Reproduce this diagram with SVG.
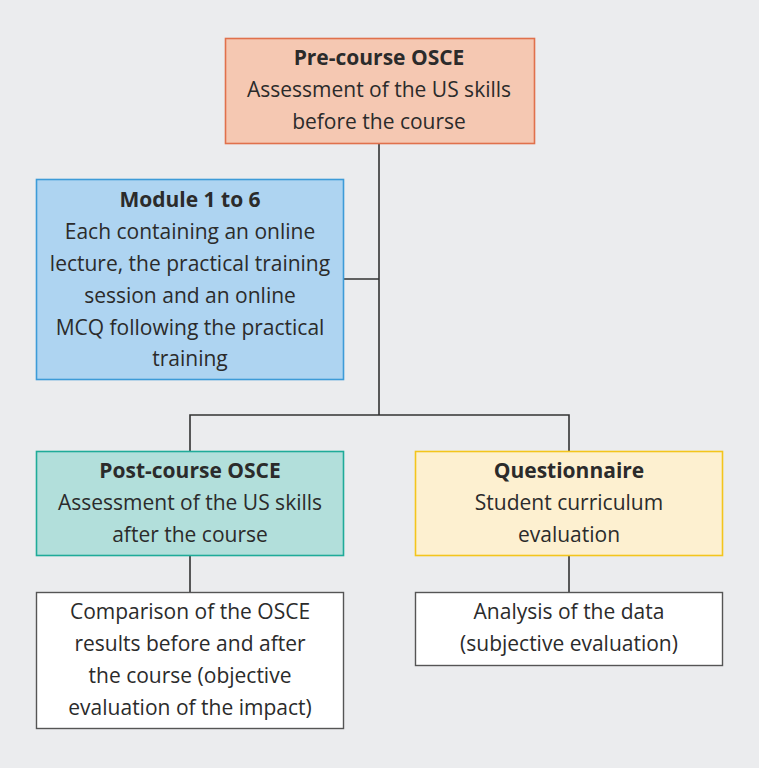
<svg xmlns="http://www.w3.org/2000/svg" width="759" height="768" viewBox="0 0 759 768">
<style>
text{font-family:"Open Sans","Noto Sans","DejaVu Sans",sans-serif;font-size:21px;fill:#2b2b2b;text-anchor:middle}
.b{font-weight:bold}
.c{fill:none;stroke:#333;stroke-width:1.6}
</style>
<rect width="759" height="768" fill="#ebecee"/>
<g id="connectors">
<path class="c" d="M379 143V415M344 279H379M190 451V415H569V451M190 556V592M569 556V592"/>
</g>
<g id="pre">
<rect x="225.5" y="38.5" width="309" height="105" fill="#f5c8b2" stroke="#e0714c" stroke-width="1.6"/>
<text class="b" x="379" y="65">Pre-course OSCE</text>
<text x="379" y="97">Assessment of the US skills</text>
<text x="379" y="129">before the course</text>
</g>
<g id="module">
<rect x="36.5" y="179.5" width="307" height="200" fill="#aed4f1" stroke="#3d9bd8" stroke-width="1.6"/>
<text class="b" x="190" y="207">Module 1 to 6</text>
<text x="190" y="239">Each containing an online</text>
<text x="190" y="271">lecture, the practical training</text>
<text x="190" y="303">session and an online</text>
<text x="190" y="335">MCQ following the practical</text>
<text x="190" y="366">training</text>
</g>
<g id="post">
<rect x="36.5" y="451.5" width="307" height="104" fill="#b2dfdb" stroke="#1fab99" stroke-width="1.6"/>
<text class="b" x="190" y="478">Post-course OSCE</text>
<text x="190" y="510">Assessment of the US skills</text>
<text x="190" y="542">after the course</text>
</g>
<g id="quest">
<rect x="415.5" y="451.5" width="307" height="104" fill="#fdf0d0" stroke="#f3c51c" stroke-width="1.6"/>
<text class="b" x="569" y="478">Questionnaire</text>
<text x="569" y="510">Student curriculum</text>
<text x="569" y="542">evaluation</text>
</g>
<g id="compare">
<rect x="36.5" y="592.5" width="307" height="136" fill="#fff" stroke="#555" stroke-width="1.4"/>
<text x="190" y="619">Comparison of the OSCE</text>
<text x="190" y="651">results before and after</text>
<text x="190" y="683">the course (objective</text>
<text x="190" y="715">evaluation of the impact)</text>
</g>
<g id="analysis">
<rect x="415.5" y="592.5" width="307" height="73" fill="#fff" stroke="#555" stroke-width="1.4"/>
<text x="569" y="619">Analysis of the data</text>
<text x="569" y="651">(subjective evaluation)</text>
</g>
</svg>
